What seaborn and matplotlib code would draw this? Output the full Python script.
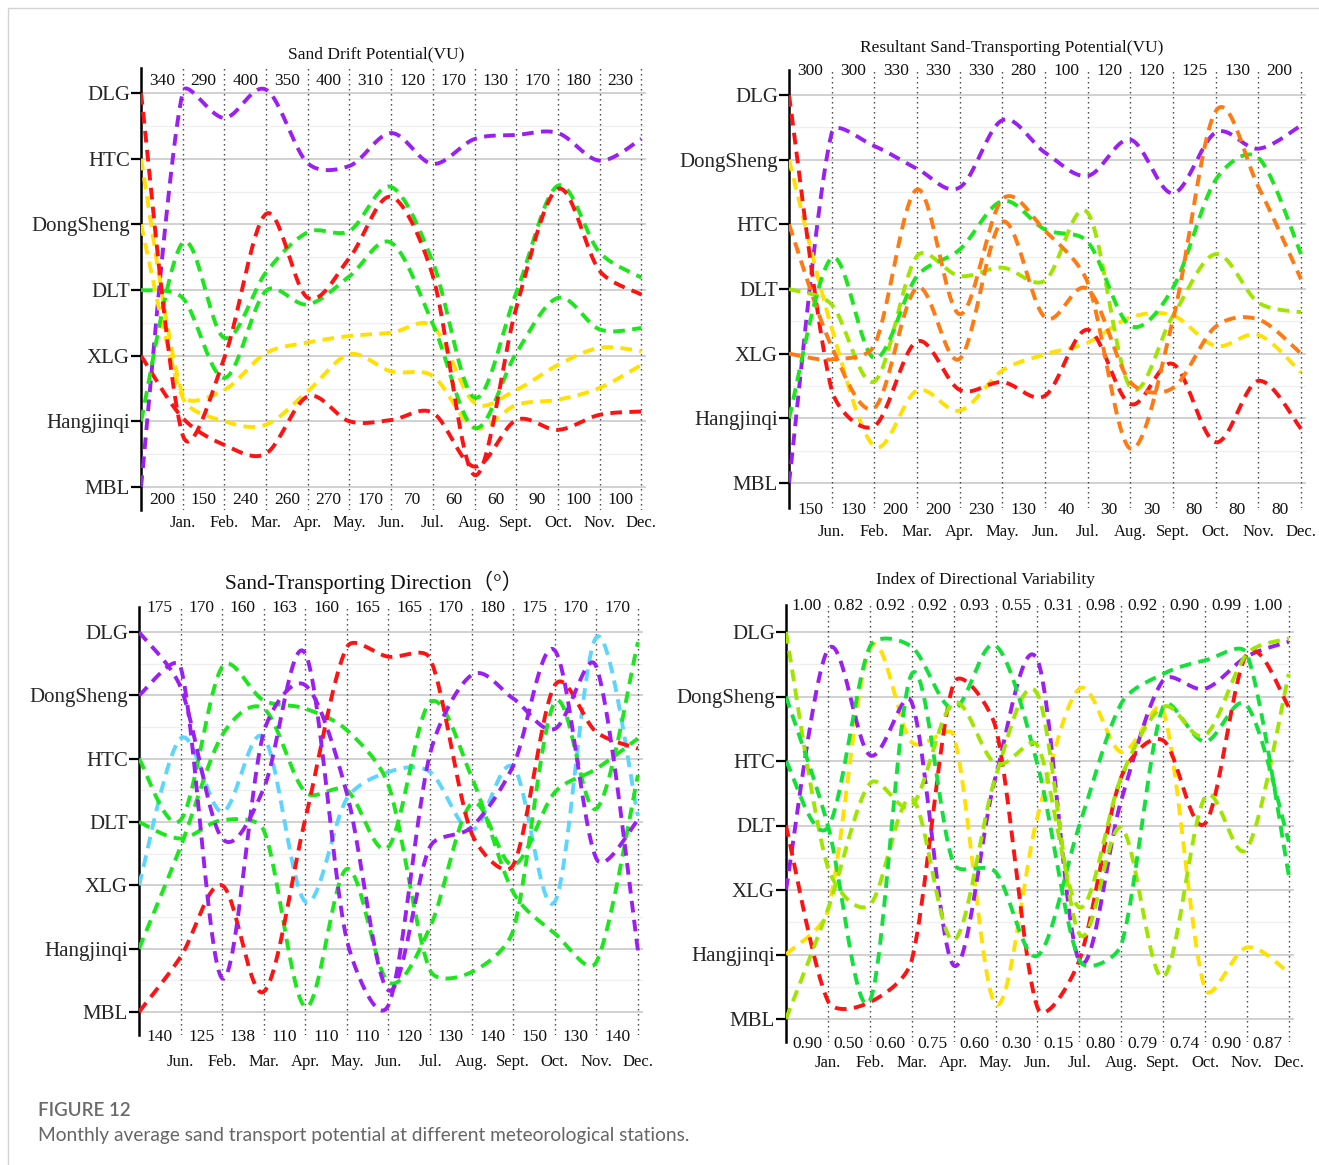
import numpy as np
import pandas as pd
import matplotlib
matplotlib.use("Agg")
import matplotlib.pyplot as plt
from matplotlib.patches import Rectangle
import seaborn as sns

sns.set_theme(style="white")
plt.rcParams["font.family"] = ["Liberation Serif", "Noto Sans CJK SC"]

W, H = 1319, 1165

# ---------------- data ----------------
months_a = ["Jan.", "Feb.", "Mar.", "Apr.", "May.", "Jun.", "Jul.", "Aug.", "Sept.", "Oct.", "Nov.", "Dec."]
months_b = ["Jun.", "Feb.", "Mar.", "Apr.", "May.", "Jun.", "Jul.", "Aug.", "Sept.", "Oct.", "Nov.", "Dec."]

stations_1 = ["DLG", "HTC", "DongSheng", "DLT", "XLG", "Hangjinqi", "MBL"]
stations_2 = ["DLG", "DongSheng", "HTC", "DLT", "XLG", "Hangjinqi", "MBL"]

# panel 1: Sand Drift Potential
dp_top = ["340", "290", "400", "350", "400", "310", "120", "170", "130", "170", "180", "230"]
dp_bottom = ["200", "150", "240", "260", "270", "170", "70", "60", "60", "90", "100", "100"]
dp_purple_mbl = [0, 6.01, 5.62, 6.05, 4.93, 4.89, 5.39, 4.92, 5.30, 5.36, 5.39, 4.97, 5.30]
dp_red_dlg = [6, 0.79, 1.97, 4.16, 2.88, 3.49, 4.42, 3.21, 0.18, 2.73, 4.54, 3.29, 2.93]
dp_red_xlg = [2, 1.05, 0.64, 0.51, 1.38, 1.00, 1.02, 1.13, 0.31, 1.02, 0.87, 1.10, 1.15]
dp_yellow_htc = [5, 1.41, 1.48, 2.04, 2.20, 2.30, 2.35, 2.45, 1.28, 1.48, 1.86, 2.12, 2.07]
dp_yellow_ds = [4, 1.36, 1.00, 0.95, 1.46, 2.02, 1.76, 1.69, 0.90, 1.25, 1.33, 1.51, 1.86]
dp_green_dlt = [3, 2.88, 1.66, 2.99, 2.78, 3.21, 3.72, 2.48, 0.90, 2.04, 2.88, 2.40, 2.42]
dp_green_hjq = [1, 3.72, 2.27, 3.27, 3.88, 3.90, 4.57, 3.42, 1.36, 2.96, 4.59, 3.57, 3.19]

# panel 2: Resultant Sand-Transporting Potential
rdp_top = ["300", "300", "330", "330", "330", "280", "100", "120", "120", "125", "130", "200"]
rdp_bottom = ["150", "130", "200", "200", "230", "130", "40", "30", "30", "80", "80", "80"]
rdp_purple_mbl = [0, 5.41, 5.21, 4.86, 4.57, 5.61, 5.11, 4.75, 5.31, 4.48, 5.42, 5.17, 5.53]
rdp_red_dlg = [6, 1.44, 0.88, 2.19, 1.44, 1.56, 1.35, 2.37, 1.22, 1.84, 0.63, 1.58, 0.84]
rdp_yellow_ds = [5, 2.40, 0.57, 1.43, 1.12, 1.74, 1.99, 2.17, 2.56, 2.59, 2.12, 2.29, 1.71]
rdp_orange_htc = [4, 2.11, 1.16, 3.02, 1.92, 4.04, 2.56, 3.00, 1.56, 1.47, 2.42, 2.53, 2.00]
rdp_lime_dlt = [3, 2.76, 1.57, 3.51, 3.20, 3.33, 3.13, 4.18, 1.48, 2.59, 3.54, 2.79, 2.64]
rdp_orange_xlg = [2, 1.91, 2.13, 4.54, 2.61, 4.39, 3.90, 3.10, 0.53, 2.53, 5.75, 4.58, 3.15]
rdp_green_hjq = [1, 3.48, 1.93, 3.20, 3.61, 4.36, 3.92, 3.73, 2.43, 3.02, 4.69, 5.03, 3.54]

# panel 3: Sand-Transporting Direction
dir_top = ["175", "170", "160", "163", "160", "165", "165", "170", "180", "175", "170", "170"]
dir_bottom = ["140", "125", "138", "110", "110", "110", "120", "130", "140", "150", "130", "140"]
dir_purple_dlg = [6, 5.13, 2.74, 3.53, 5.66, 1.13, 0.11, 4.08, 5.32, 4.95, 4.47, 5.45, 0.97]
dir_purple_ds = [5, 5.45, 0.53, 4.42, 5.16, 3.45, 0.34, 2.61, 2.92, 3.89, 5.71, 2.42, 3.03]
dir_green_htc = [4, 3.03, 5.45, 4.92, 4.79, 4.45, 3.58, 0.66, 0.63, 1.29, 4.89, 3.21, 5.84]
dir_green_dlt = [3, 2.74, 3.03, 2.87, 0.08, 2.26, 0.47, 1.34, 3.29, 2.32, 3.47, 3.84, 4.32]
dir_blue_xlg = [2, 4.32, 3.16, 4.34, 1.74, 3.37, 3.79, 3.79, 2.87, 3.87, 1.74, 5.92, 3.10]
dir_green_hjq = [1, 2.61, 4.37, 4.79, 3.47, 3.50, 2.61, 4.89, 3.71, 1.89, 1.24, 0.79, 3.74]
dir_red_mbl = [0, 0.87, 2.00, 0.32, 3.05, 5.76, 5.61, 5.58, 2.82, 2.32, 5.16, 4.42, 4.16]

# panel 4: Index of Directional Variability
rdd_top = ["1.00", "0.82", "0.92", "0.92", "0.93", "0.55", "0.31", "0.98", "0.92", "0.90", "0.99", "1.00"]
rdd_bottom = ["0.90", "0.50", "0.60", "0.75", "0.60", "0.30", "0.15", "0.80", "0.79", "0.74", "0.90", "0.87"]
rdd_lime_dlg = [6, 2.35, 1.77, 3.42, 1.22, 3.75, 5.04, 1.32, 2.97, 0.65, 3.44, 2.64, 5.35]
rdd_green_ds = [5, 3.00, 0.28, 5.35, 2.41, 2.28, 0.98, 3.00, 4.89, 5.35, 5.56, 5.66, 2.23]
rdd_green_htc = [4, 2.97, 5.77, 5.77, 4.81, 5.79, 3.95, 0.91, 1.15, 4.84, 4.30, 4.86, 2.75]
rdd_red_dlt = [3, 0.28, 0.26, 0.91, 5.20, 4.53, 0.18, 0.91, 3.75, 4.32, 3.03, 5.66, 4.84]
rdd_purple_xlg = [2, 5.73, 4.09, 4.91, 0.83, 3.75, 5.57, 0.90, 3.39, 5.25, 5.12, 5.62, 5.85]
rdd_yellow_hjq = [1, 1.68, 5.74, 4.29, 4.40, 0.23, 3.13, 5.12, 4.14, 4.79, 0.47, 1.11, 0.72]
rdd_lime_mbl = [0, 1.70, 3.65, 3.30, 4.90, 3.96, 4.24, 1.73, 3.75, 4.84, 4.40, 5.66, 5.90]

PURPLE, RED, YELLOW, GREEN = "#9b1ff2", "#ff1212", "#ffe000", "#1ce61c"
ORANGE, LIME, BLUE, GREEN2 = "#ff7a12", "#9ee600", "#5cd6ff", "#14e03c"

panels = [
    dict(title="Sand Drift Potential(VU)", tsize=12.5, tx=5.64, stations=stations_1, months=months_a,
         top=dp_top, bottom=dp_bottom,
         lines=[(dp_purple_mbl, PURPLE), (dp_yellow_htc, YELLOW), (dp_yellow_ds, YELLOW),
                (dp_red_xlg, RED), (dp_green_dlt, GREEN), (dp_green_hjq, GREEN), (dp_red_dlg, RED)],
         px=dict(x0=141, ppx=41.7, top=68, bot=510, dlg=93, mbl=487, tnum=81, bnum=500, mon=523, ttl=54)),
    dict(title="Resultant Sand-Transporting Potential(VU)", tsize=12.5, tx=5.23, stations=stations_2,
         months=months_b, top=rdp_top, bottom=rdp_bottom,
         lines=[(rdp_purple_mbl, PURPLE), (rdp_yellow_ds, YELLOW), (rdp_red_dlg, RED), (rdp_lime_dlt, LIME),
                (rdp_orange_htc, ORANGE), (rdp_green_hjq, GREEN), (rdp_orange_xlg, ORANGE)],
         px=dict(x0=789, ppx=42.67, top=70, bot=508, dlg=95, mbl=483, tnum=71, bnum=510, mon=532, ttl=48)),
    dict(title="Sand-Transporting Direction（°）", tsize=15.5, tx=5.65, stations=stations_2, months=months_b,
         top=dir_top, bottom=dir_bottom,
         lines=[(dir_blue_xlg, BLUE), (dir_green_hjq, GREEN), (dir_green_dlt, GREEN), (dir_green_htc, GREEN),
                (dir_red_mbl, RED), (dir_purple_ds, PURPLE), (dir_purple_dlg, PURPLE)],
         px=dict(x0=139, ppx=41.58, top=607, bot=1035, dlg=632, mbl=1012, tnum=608, bnum=1037, mon=1062, ttl=582)),
    dict(title="Index of Directional Variability", tsize=12.5, tx=4.77, stations=stations_2, months=months_a,
         top=rdd_top, bottom=rdd_bottom,
         lines=[(rdd_yellow_hjq, YELLOW), (rdd_purple_xlg, PURPLE), (rdd_red_dlt, RED), (rdd_lime_dlg, LIME),
                (rdd_green_ds, GREEN2), (rdd_green_htc, GREEN2), (rdd_lime_mbl, LIME)],
         px=dict(x0=786, ppx=41.9, top=605, bot=1042, dlg=632, mbl=1019, tnum=606, bnum=1044, mon=1063, ttl=580)),
]


def smooth(xs, ys, ratio, n=24):
    # Bezier smoothing through the points (Excel-like), control arms limited to cut overshoot
    P = np.column_stack([xs, np.asarray(ys, float) * ratio])
    Q = np.vstack([P[0], P, P[-1]])
    T = (Q[2:] - Q[:-2]) / 6
    t = np.linspace(0, 1, n, endpoint=False)[:, None]
    out = []
    for i in range(len(P) - 1):
        p1, p2 = P[i], P[i + 1]
        seg = np.linalg.norm(p2 - p1)
        a, b = T[i], T[i + 1]
        la, lb = np.linalg.norm(a), np.linalg.norm(b)
        if la > 0.35 * seg:
            a = a * 0.35 * seg / la
        if lb > 0.35 * seg:
            b = b * 0.35 * seg / lb
        c1, c2 = p1 + a, p2 - b
        out.append((1 - t) ** 3 * p1 + 3 * (1 - t) ** 2 * t * c1 + 3 * (1 - t) * t ** 2 * c2 + t ** 3 * p2)
    out.append(P[-1][None, :])
    out = np.vstack(out)
    return out[:, 0], out[:, 1] / ratio


fig = plt.figure(figsize=(W / 100, H / 100), dpi=100)
fig.patches.append(Rectangle((8 / W, -0.1), 1.2, 1 - 8 / H + 0.1, transform=fig.transFigure,
                             fill=False, edgecolor="#d4d4d4", linewidth=1.0))

xs = np.arange(13)
for p in panels:
    q = p["px"]
    ppu = (q["mbl"] - q["dlg"]) / 6
    xr = 12.12
    ax = fig.add_axes([q["x0"] / W, 1 - q["bot"] / H, xr * q["ppx"] / W, (q["bot"] - q["top"]) / H])
    y0 = 6 - (q["bot"] - q["dlg"]) / ppu
    y1 = 6 + (q["dlg"] - q["top"]) / ppu
    ax.set_xlim(0, xr)
    ax.set_ylim(y0, y1)

    def py(v):
        return 6 - (v - q["dlg"]) / ppu

    for k in range(7):
        ax.axhline(k, color="#c9c9c9", lw=1.2, zorder=0)
        if k < 6:
            ax.axhline(k + 0.5, color="#efefef", lw=0.9, zorder=0)
    for m in range(1, 13):
        ax.axvline(m, color="#3a3a3a", lw=1.0, ls=(0, (1, 2.6)), zorder=1)

    ratio = ppu / q["ppx"]
    for vals, col in p["lines"]:
        sx, sy = smooth(xs, vals, ratio)
        sns.lineplot(x=sx, y=sy, ax=ax, color=col, sort=False, estimator=None,
                     linewidth=2.8, linestyle=(0, (3.0, 1.9)), zorder=3)

    ax.set_yticks(range(7))
    ax.set_yticklabels(p["stations"][::-1], fontsize=15)
    ax.set_xticks([])
    ax.tick_params(axis="y", direction="out", length=7, width=1.6, color="black", pad=1, left=True)
    for s in ["top", "right", "bottom"]:
        ax.spines[s].set_visible(False)
    ax.spines["left"].set_color("black")
    ax.spines["left"].set_linewidth(1.8)

    for i in range(12):
        ax.text(i + 0.5, py(q["tnum"]), p["top"][i], ha="center", va="center", fontsize=12.5,
                color="#111111", clip_on=False, zorder=4)
        ax.text(i + 0.5, py(q["bnum"]), p["bottom"][i], ha="center", va="center", fontsize=12.5,
                color="#111111", clip_on=False, zorder=4)
        ax.text(i + 1, py(q["mon"]), p["months"][i], ha="center", va="center", fontsize=12,
                color="#111111", clip_on=False)
    ax.text(p["tx"], py(q["ttl"]), p["title"], ha="center", va="center", fontsize=p["tsize"],
            color="#111111", clip_on=False)

fig.text(38 / W, 1 - 1110 / H, "FIGURE 12", fontsize=13.5, color="#6a6a6a", fontweight="semibold",
         family=["Lato", "DejaVu Sans"], va="center", ha="left")
fig.text(38 / W, 1 - 1135 / H, "Monthly average sand transport potential at different meteorological stations.",
         fontsize=13.8, color="#666666", family=["Lato", "DejaVu Sans"], va="center", ha="left")

fig.savefig("out.png", dpi=100, facecolor="white")
